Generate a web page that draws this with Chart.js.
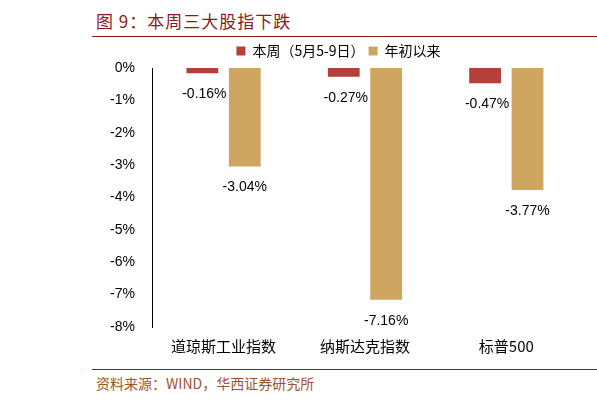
<!DOCTYPE html>
<html><head><meta charset="utf-8">
<script src="https://cdn.jsdelivr.net/npm/chart.js@4"></script>
<style>
body{margin:0;width:597px;height:403px;background:#fff;font-family:"Noto Sans CJK SC",sans-serif;position:relative;overflow:hidden}
#title{position:absolute;left:96px;top:8px;font-size:17px;color:#8b1a1a;letter-spacing:1px}
#tline{position:absolute;left:92px;top:36px;width:505px;border-top:1px solid #8b1a1a}
#bline{position:absolute;left:92px;top:369px;width:505px;border-top:1px solid #8b1a1a}
#src{position:absolute;left:96px;top:373px;font-size:14px;color:#a0522d}
#wrap{position:absolute;left:0;top:40px;width:597px;height:325px}
</style></head><body>
<div id="title">图 9：本周三大股指下跌</div>
<div id="tline"></div>
<div id="wrap"><canvas id="c"></canvas></div>
<div id="bline"></div>
<div id="src">资料来源：WIND，华西证券研究所</div>
<script>
const categories = ['道琼斯工业指数', '纳斯达克指数', '标普500'];
const weekValues = [-0.16, -0.27, -0.47];
const ytdValues = [-3.04, -7.16, -3.77];
const seriesNames = ['本周（5月5-9日）', '年初以来'];

const labelPlugin = {
  id: 'labels',
  afterDatasetsDraw(chart) {
    const ctx = chart.ctx;
    ctx.save();
    ctx.font = '14px Arial';
    ctx.fillStyle = '#000';
    ctx.textAlign = 'center';
    ctx.textBaseline = 'top';
    chart.data.datasets.forEach((ds, i) => {
      chart.getDatasetMeta(i).data.forEach((bar, j) => {
        ctx.fillText(ds.data[j].toFixed(2) + '%', bar.x + (i === 0 ? 2 : 0), bar.y + 14);
      });
    });
    ctx.restore();
  }
};

new Chart(document.getElementById('c'), {
  type: 'bar',
  data: {
    labels: categories,
    datasets: [
      { label: seriesNames[0], data: weekValues, backgroundColor: '#b5403a', barPercentage: 0.75, categoryPercentage: 0.6 },
      { label: seriesNames[1], data: ytdValues, backgroundColor: '#cfa661', barPercentage: 0.75, categoryPercentage: 0.6 }
    ]
  },
  options: {
    responsive: true,
    maintainAspectRatio: false,
    animation: false,
    layout: { padding: { left: 100, right: 20, top: 0, bottom: 0 } },
    plugins: {
      legend: {
        labels: { boxWidth: 9, boxHeight: 9, font: { size: 14, family: 'Noto Sans CJK SC' }, color: '#000', padding: 4 }
      },
      tooltip: { enabled: false }
    },
    scales: {
      x: {
        grid: { display: false, drawTicks: false },
        border: { display: false },
        ticks: { color: '#000', font: { size: 15, family: 'Noto Sans CJK SC' }, padding: 10 }
      },
      y: {
        min: -8, max: 0,
        grid: { display: false },
        border: { color: '#000' },
        ticks: { stepSize: 1, color: '#000', font: { size: 14, family: 'Arial' }, callback: v => v + '%', padding: 10 }
      }
    }
  },
  plugins: [labelPlugin]
});
</script>
</body></html>
